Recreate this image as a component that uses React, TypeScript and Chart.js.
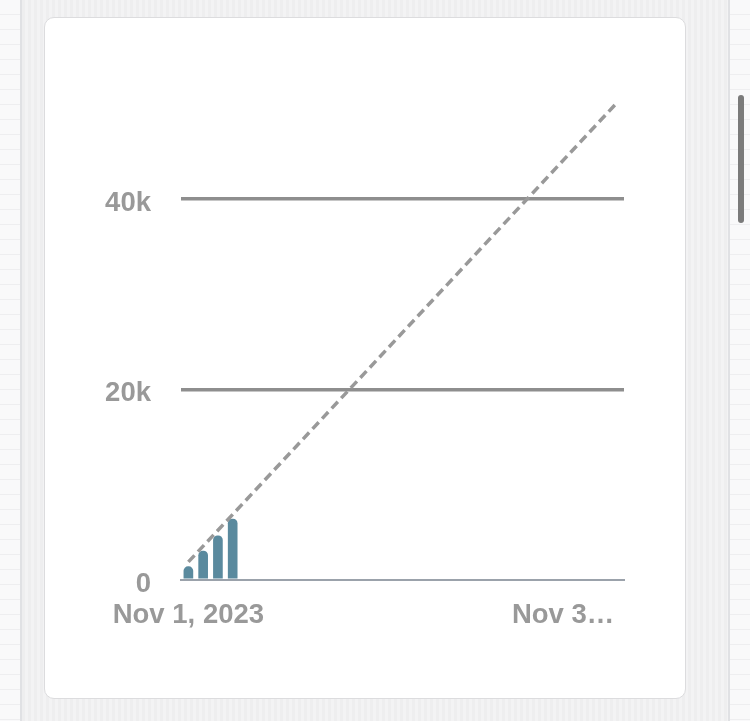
import React, { useEffect, useRef } from "react";
import { Chart, registerables } from "chart.js";

Chart.register(...registerables);

const days: string[] = [
  "Nov 1", "Nov 2", "Nov 3", "Nov 4", "Nov 5", "Nov 6", "Nov 7", "Nov 8", "Nov 9", "Nov 10",
  "Nov 11", "Nov 12", "Nov 13", "Nov 14", "Nov 15", "Nov 16", "Nov 17", "Nov 18", "Nov 19", "Nov 20",
  "Nov 21", "Nov 22", "Nov 23", "Nov 24", "Nov 25", "Nov 26", "Nov 27", "Nov 28", "Nov 29", "Nov 30",
];
const dailyValues: number[] = [1400, 3050, 4650, 6400];
const trendDays: string[] = ["Nov 1", "Nov 30"];
const trendValues: number[] = [1900, 50100];
const yTicks: number[] = [0, 20000, 40000];
const yTickLabels: string[] = ["0", "20k", "40k"];
const firstXLabel = "Nov 1, 2023";
const lastXLabel = "Nov 3…";

const FONT = "'Liberation Sans', Arial, Helvetica, sans-serif";

export default function App() {
  const ref = useRef<HTMLCanvasElement | null>(null);

  useEffect(() => {
    if (!ref.current) return;
    const chart = new Chart(ref.current, {
      data: {
        labels: days,
        datasets: [
          {
            type: "line",
            data: trendDays.map((d, i) => ({ x: d, y: trendValues[i] })),
            borderColor: "#999999",
            borderWidth: 3.5,
            borderDash: [9, 5],
            borderCapStyle: "butt",
            pointRadius: 0,
            fill: false,
            order: 0,
          } as any,
          {
            type: "bar",
            data: dailyValues,
            backgroundColor: "#5a8a9e",
            barThickness: 9,
            borderRadius: { topLeft: 4.5, topRight: 4.5, bottomLeft: 0, bottomRight: 0 },
            borderSkipped: false,
            order: 1,
          } as any,
        ],
      },
      options: {
        animation: false,
        responsive: false,
        maintainAspectRatio: false,
        layout: { padding: { left: 100, right: 126, top: 85, bottom: 81 } },
        plugins: { legend: { display: false }, tooltip: { enabled: false } },
        scales: {
          x: {
            type: "category",
            grid: { display: false },
            border: { display: true, color: "#9ba2ab", width: 2 },
            afterFit: (s: any) => { s.height = 60; },
            ticks: {
              autoSkip: false,
              maxRotation: 0,
              minRotation: 0,
              padding: 11,
              color: "#999999",
              font: { family: FONT, size: 27.5, weight: "bold" },
              callback: (_v: any, i: number) => {
                if (i === 0) return firstXLabel;
                if (i === days.length - 1) return lastXLabel + "\u00A0".repeat(14);
                return null;
              },
            },
          },
          y: {
            type: "linear",
            min: 0,
            max: 52000,
            bounds: "data",
            afterFit: (s: any) => { s.width = 81; },
            afterBuildTicks: (s: any) => { s.ticks = yTicks.map((v) => ({ value: v })); },
            border: { display: false },
            grid: {
              drawTicks: false,
              lineWidth: 3.5,
              color: (ctx: any) => (ctx.tick && ctx.tick.value === 0 ? "rgba(0,0,0,0)" : "#8e8e8e"),
            },
            ticks: {
              padding: 30,
              labelOffset: 4,
              color: "#999999",
              font: { family: FONT, size: 27.5, weight: "bold" },
              callback: (v: any) => {
                const i = yTicks.indexOf(Number(v));
                return i >= 0 ? yTickLabels[i] : "";
              },
            },
          },
        },
      } as any,
    });
    return () => chart.destroy();
  }, []);

  return (
    <div
      style={{
        position: "fixed",
        left: 0,
        top: 0,
        width: 750,
        height: 721,
        overflow: "hidden",
        background:
          "repeating-linear-gradient(180deg, #f9f9fa 0px, #f9f9fa 14px, #eeeef0 14px, #eeeef0 15px)",
      }}
    >
      <div
        style={{
          position: "absolute",
          left: 20,
          top: 0,
          width: 710,
          height: 721,
          boxSizing: "border-box",
          borderLeft: "2px solid #e0e1e4",
          borderRight: "2px solid #e0e1e4",
          background:
            "repeating-linear-gradient(90deg, #eeeeef 0px, #eeeeef 3px, #f3f3f4 3px, #f3f3f4 6px)",
        }}
      />
      <div
        style={{
          position: "absolute",
          left: 44,
          top: 17,
          width: 642,
          height: 682,
          boxSizing: "border-box",
          background: "#ffffff",
          border: "1.5px solid #dcdcde",
          borderRadius: 10,
        }}
      />
      <div
        style={{
          position: "absolute",
          left: 738,
          top: 95,
          width: 6,
          height: 128,
          borderRadius: 3,
          background: "#7b7b7b",
        }}
      />
      <canvas
        ref={ref}
        width={750}
        height={721}
        style={{ position: "absolute", left: 0, top: 0, width: 750, height: 721 }}
      />
    </div>
  );
}
